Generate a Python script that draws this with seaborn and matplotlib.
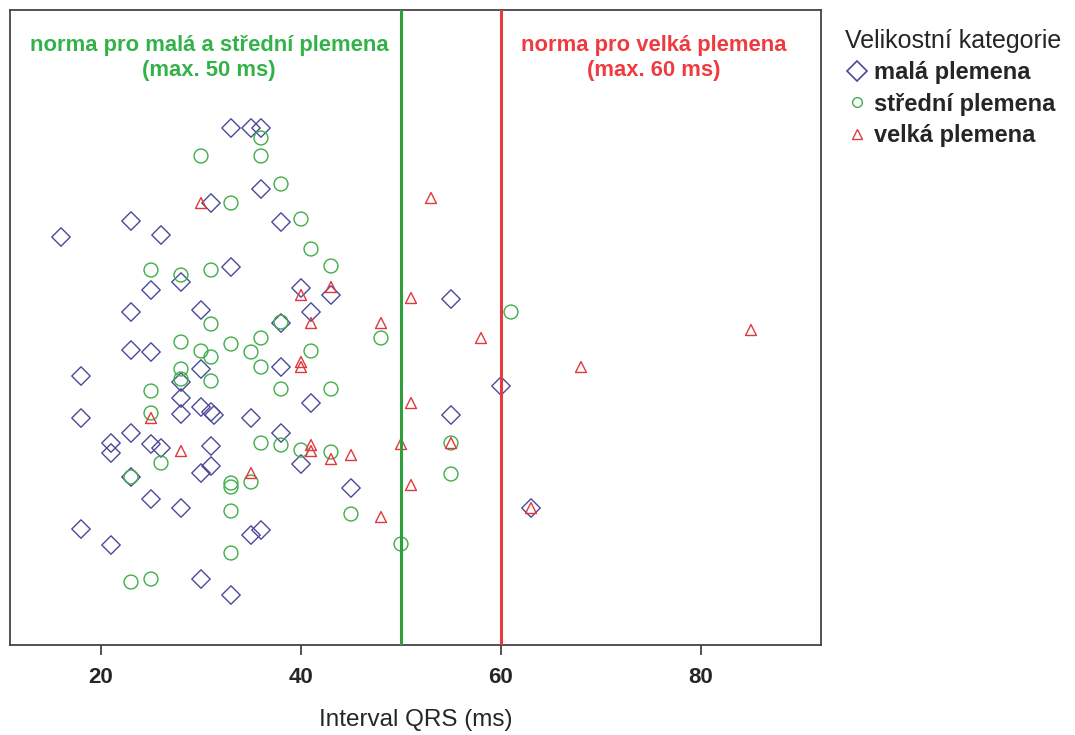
import matplotlib
matplotlib.use("Agg")
import matplotlib.pyplot as plt
from matplotlib.lines import Line2D
import seaborn as sns
import pandas as pd

# ---- data (QRS interval in ms; vertical position = case scatter height) ----
mala_qrs = [33, 35, 36, 36, 31, 23, 38, 26, 16, 33, 25, 28, 40, 43, 55, 30, 41, 23, 38, 23,
            25, 18, 30, 38, 28, 60, 28, 41, 30, 31, 31.3, 28, 35, 55, 18, 23, 38, 21, 21, 25,
            26, 31, 23, 30, 31, 40, 45, 25, 28, 63, 18, 35, 36, 21, 30, 33]
mala_pos = [517, 517, 517, 456, 442, 424, 423, 410, 408, 378, 355, 363, 357, 350, 346, 335, 333, 333, 322, 295,
            293, 269, 276, 278, 263, 259, 247, 242, 238, 233, 230, 231, 227, 230, 227, 212, 212, 202, 192, 201,
            197, 199, 168, 172, 179, 181, 157, 146, 137, 137, 116, 110, 115, 100, 66, 50]

stredni_qrs = [36, 30, 36, 38, 33, 40, 41, 25, 28, 31, 43, 61, 31, 38, 28, 30, 31, 33, 36, 35,
               48, 41, 36, 28, 28, 31, 38, 43, 25, 25, 36, 38, 40, 43, 55, 26, 23, 33, 33, 35,
               55, 33, 45, 50, 33, 23, 25]
stredni_pos = [507, 489, 489, 461, 442, 426, 396, 375, 370, 375, 379, 333, 321, 323, 303, 294, 288, 301, 307, 293,
               307, 294, 278, 276, 266, 264, 256, 256, 254, 232, 202, 200, 195, 193, 202, 182, 168, 162, 158, 163,
               171, 134, 131, 101, 92, 63, 66]

velka_qrs = [30, 53, 40, 43, 51, 41, 48, 58, 85, 40, 40, 68, 51, 25, 41, 41, 50, 55, 28, 43,
             45, 35, 51, 48, 63]
velka_pos = [442, 447, 350, 358, 347, 322, 322, 307, 315, 283, 278, 278, 242, 227, 200, 194, 201, 202, 194, 186,
             190, 172, 160, 128, 137]

categories = ["malá plemena", "střední plemena", "velká plemena"]
norm_lines = [50, 60]
norm_texts = ["norma pro malá a střední plemena\n(max. 50 ms)", "norma pro velká plemena\n(max. 60 ms)"]
xticks = [20, 40, 60, 80]

df = pd.concat([
    pd.DataFrame({"qrs": mala_qrs, "pos": mala_pos, "kat": categories[0]}),
    pd.DataFrame({"qrs": stredni_qrs, "pos": stredni_pos, "kat": categories[1]}),
    pd.DataFrame({"qrs": velka_qrs, "pos": velka_pos, "kat": categories[2]}),
])

# ---- style ----
sns.set_style("white")
plt.rcParams["font.family"] = ["Liberation Sans", "DejaVu Sans"]

colors = {categories[0]: "#4a4a9c", categories[1]: "#3fae4a", categories[2]: "#e0383c"}
markers = {categories[0]: "D", categories[1]: "o", categories[2]: "^"}
sizes = {categories[0]: 88, categories[1]: 100, categories[2]: 62}
line_colors = ["#2f9e3c", "#ea3a3e"]

fig = plt.figure(figsize=(10.75, 7.35), dpi=100)
ax = fig.add_axes([0.0093, 0.1224, 0.7544, 0.8640])

for cat in categories:
    sub = df[df["kat"] == cat]
    sns.scatterplot(data=sub, x="qrs", y="pos", ax=ax, marker=markers[cat], s=sizes[cat],
                    facecolors="none", edgecolors=colors[cat], color=colors[cat],
                    linewidth=1.0, legend=False)

for xv, lc in zip(norm_lines, line_colors):
    ax.axvline(xv, color=lc, linewidth=2.2, zorder=3)

ax.text(30.8, 587, norm_texts[0], color="#33b24a", fontsize=15.8, fontweight="bold",
        ha="center", va="center", linespacing=1.25)
ax.text(75.3, 587, norm_texts[1], color="#ee3b3f", fontsize=15.8, fontweight="bold",
        ha="center", va="center", linespacing=1.25)

ax.set_xlim(10.9, 92)
ax.set_ylim(0, 635)
ax.set_xticks(xticks)
ax.set_yticks([])
ax.tick_params(axis="x", direction="out", length=7, width=1.2, color="#333333",
               labelsize=16, pad=9, bottom=True)
for lab in ax.get_xticklabels():
    lab.set_fontweight("bold")
ax.set_xlabel("Interval QRS (ms)", fontsize=17.5, labelpad=15)
ax.set_ylabel("")
for sp in ax.spines.values():
    sp.set_visible(True)
    sp.set_color("#444444")
    sp.set_linewidth(1.3)

handles = [
    Line2D([], [], linestyle="none", marker="D", markersize=10, markerfacecolor="none",
           markeredgecolor=colors[categories[0]], markeredgewidth=1.2),
    Line2D([], [], linestyle="none", marker="o", markersize=7, markerfacecolor="none",
           markeredgecolor=colors[categories[1]], markeredgewidth=1.0),
    Line2D([], [], linestyle="none", marker="^", markersize=6.5, markerfacecolor="none",
           markeredgecolor=colors[categories[2]], markeredgewidth=1.0),
]
leg = fig.legend(handles, categories, loc="upper left", bbox_to_anchor=(0.766, 0.99),
                 frameon=False, title="Velikostní kategorie", alignment="left",
                 handlelength=1.0, handletextpad=0.25, labelspacing=0.36,
                 prop={"size": 17, "weight": "bold"}, title_fontsize=18)
leg.get_title().set_fontweight("normal")

fig.savefig("out.png", dpi=100)
